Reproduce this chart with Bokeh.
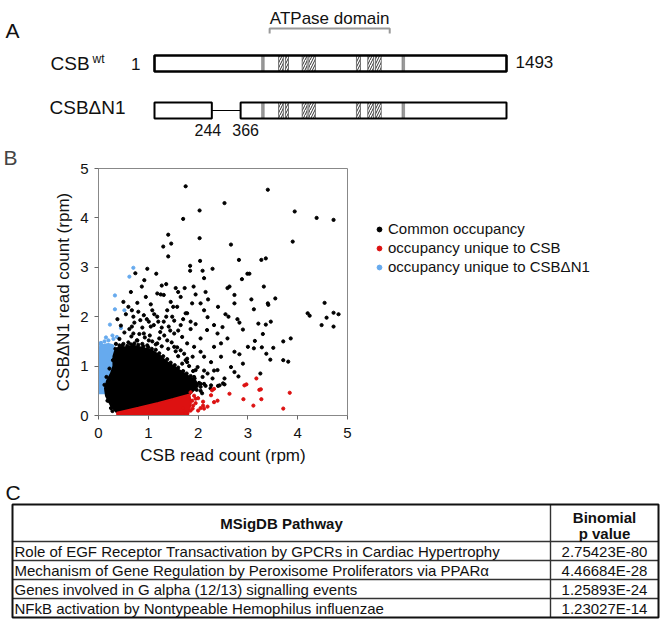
from bokeh.plotting import figure
from bokeh.models import Range1d, Legend, LegendItem, FixedTicker
from bokeh.layouts import column, row
from bokeh.embed import file_html
from bokeh.resources import INLINE
from bokeh.core.properties import value

FONT = "Liberation Sans"

# ---------------- Panel A data (amino-acid positions) ----------------
wt_segments_start = [1]
wt_segments_end = [1493]
dn1_segments_start = [1, 366]
dn1_segments_end = [244, 1493]
gray_start = [455, 1050]
gray_end = [466, 1061]
hatch_start = [527, 556, 627, 655, 857, 905, 938]
hatch_end = [547, 569, 648, 683, 874, 930, 962]
atpase_start, atpase_end = 489, 998

# ---------------- Panel B data (rpm) ----------------
common_x = [1.75, 3.40, 2.53, 2.03, 3.94, 1.70, 4.38, 4.72, 1.40, 2.03, 3.90, 1.46, 1.30, 2.66, 1.40, 2.04,
            2.82, 3.36, 3.27, 1.84, 0.98, 2.29, 2.09, 0.74, 2.99, 3.03, 1.16, 1.84, 2.12, 0.92, 2.88, 0.87,
            3.32, 2.63, 2.59, 1.36, 1.55, 1.27, 1.18, 1.73, 1.91, 2.73, 1.65, 1.31, 3.55, 3.07, 2.73, 3.40,
            3.41, 4.54, 4.72, 4.82, 4.20, 4.24, 4.58, 4.48, 4.72, 2.61, 2.79, 2.83, 2.90, 3.12, 3.46, 3.21,
            3.36, 3.30, 3.86, 3.71, 3.14, 3.12, 3.28, 3.51, 3.37, 3.45, 3.71, 3.81, 3.25, 2.83, 2.90, 2.73,
            2.81, 2.66, 2.73, 3.00, 2.46, 2.39, 2.46, 2.32, 2.39, 2.32, 2.05, 2.18, 1.85, 1.78, 2.12, 2.05,
            1.88, 2.19, 2.49, 2.59, 2.05, 2.12, 2.26, 1.78, 1.95, 2.09, 2.29, 2.53, 2.43, 2.26,
            0.60, 0.67, 0.70, 0.84, 0.91, 1.01, 1.08, 1.11, 1.18, 1.24, 1.31, 1.38, 1.41, 1.48, 1.52, 1.58,
            1.65, 1.68, 1.75, 0.91, 1.01, 1.18, 0.70, 0.67, 0.77, 1.38, 1.52, 1.65, 1.78, 1.92, 1.89, 1.75,
            1.99, 2.12, 1.92, 2.19, 2.32, 2.05, 1.89, 1.65,
            0.35, 0.42, 0.48, 0.52, 0.60, 0.66, 0.70, 0.78, 0.82, 0.88, 0.93, 0.98, 1.03, 1.08, 1.15, 1.22,
            1.27, 1.32, 1.40, 1.47, 1.55, 1.60, 1.72, 1.68, 1.82, 1.90, 1.78, 1.58,
            0.38, 0.45, 0.55, 0.62, 0.72, 0.80, 0.88, 0.97, 1.05, 1.12, 1.20, 1.27, 1.36, 1.44, 1.52, 1.60,
            1.70, 1.85, 1.95, 0.50, 0.65, 0.78, 0.95, 1.05, 1.25, 1.45, 1.60, 1.50, 1.95, 2.20, 2.40, 2.55,
            2.15, 1.90, 2.05, 2.15, 2.25, 2.40, 2.50, 2.53, 2.12, 0.28, 0.25, 0.18, 0.20,
            0.42, 0.50, 0.58, 0.65, 0.72, 0.80, 0.90, 1.00, 1.07, 1.15, 1.22, 1.30, 1.38, 1.45, 1.53, 1.60,
            1.70, 1.77, 1.85, 1.93, 2.02, 2.05, 1.97, 2.08, 0.27, 0.20, 0.12, 0.16, 0.22, 0.29, 0.34]
common_y = [4.64, 4.57, 4.30, 4.15, 4.13, 3.98, 4.00, 3.96, 3.66, 3.59, 3.52, 3.48, 3.42, 3.46, 3.22, 3.13,
            3.15, 3.18, 3.15, 3.03, 2.97, 2.97, 2.93, 2.88, 2.87, 2.87, 2.87, 2.93, 2.78, 2.74, 2.76, 2.61,
            2.61, 2.61, 2.58, 2.66, 2.58, 2.63, 2.47, 2.58, 2.61, 2.44, 2.40, 2.44, 2.37, 2.35, 2.27, 2.27,
            2.24, 2.28, 2.08, 2.05, 2.07, 2.02, 1.98, 1.83, 1.80, 2.00, 1.95, 1.88, 1.74, 2.15, 1.90, 1.86,
            1.84, 1.65, 1.56, 1.50, 1.51, 1.36, 1.38, 1.37, 1.25, 1.13, 1.12, 1.09, 0.85, 1.24, 1.05, 0.88,
            0.79, 0.98, 1.29, 1.39, 1.19, 0.92, 1.46, 1.39, 1.66, 1.83, 1.56, 1.73, 1.90, 2.07, 2.13, 2.27,
            2.27, 1.99, 1.79, 1.56, 1.29, 1.19, 1.08, 1.08, 0.92, 0.78, 0.75, 0.75, 0.61, 0.61,
            2.20, 2.13, 2.00, 1.93, 2.03, 1.90, 2.13, 1.83, 2.00, 1.69, 1.90, 2.13, 1.80, 2.00, 1.66, 2.20,
            1.83, 1.59, 2.07, 1.66, 1.52, 1.46, 1.66, 1.80, 1.52, 1.52, 1.39, 1.32, 1.46, 1.39, 1.19, 1.12,
            0.98, 0.91, 0.78, 0.85, 0.91, 0.64, 0.58, 0.71,
            1.45, 1.55, 1.42, 1.68, 1.48, 1.60, 1.42, 1.52, 1.65, 1.45, 1.58, 1.42, 1.62, 1.50, 1.44, 1.56,
            1.40, 1.62, 1.35, 1.48, 1.30, 1.20, 1.25, 1.05, 1.00, 0.90, 1.15, 1.38,
            1.95, 1.82, 2.05, 1.75, 1.88, 2.10, 1.78, 1.95, 1.80, 2.05, 1.90, 1.78, 2.00, 1.72, 1.92, 1.72,
            1.95, 1.75, 1.85, 2.30, 2.50, 2.28, 2.40, 2.25, 2.45, 2.30, 2.50, 2.20, 2.45, 2.35, 2.20, 2.05,
            2.50, 0.55, 0.50, 0.60, 0.55, 0.60, 0.65, 0.63, 0.64, 0.09, 0.15, 0.30, 0.40,
            1.42, 1.45, 1.41, 1.44, 1.46, 1.43, 1.40, 1.38, 1.35, 1.33, 1.26, 1.20, 1.14, 1.07, 1.02, 0.97,
            0.90, 0.85, 0.80, 0.75, 0.66, 0.58, 0.52, 0.45, 0.30, 0.30, 0.62, 0.78, 0.95, 1.12, 1.35]
csb_x = [3.84, 3.26, 2.97, 2.91, 3.27, 3.11, 3.71, 2.63, 2.32, 2.39, 2.26, 2.28, 2.12, 2.10, 2.19, 1.89,
         2.00, 1.79, 1.68, 1.95, 1.85, 3.17, 2.93, 2.32, 3.23, 1.88, 1.90, 1.92, 1.95, 2.00, 2.05, 2.10,
         1.85, 1.75, 1.70]
csb_y = [0.46, 0.53, 0.63, 0.33, 0.33, 0.20, 0.14, 0.44, 0.27, 0.30, 0.41, 0.51, 0.14, 0.20, 0.18, 0.14,
         0.10, 0.37, 0.03, 0.34, 0.47, 0.75, 0.61, 0.54, 0.52, 0.30, 0.20, 0.40, 0.25, 0.35, 0.15, 0.28,
         0.10, 0.05, 0.15]
dn1_x = [0.70, 0.62, 0.33, 0.33, 0.52, 0.23, 0.45, 0.37, 0.30, 0.20, 0.12, 0.05, 0.02, 0.28, 0.15]
dn1_y = [2.99, 2.81, 2.43, 2.15, 2.13, 1.84, 1.77, 1.59, 1.55, 1.52, 1.50, 1.47, 1.45, 1.62, 1.58]

# dense cores (outline of the solid-looking clouds)
common_core_x = [0.37, 0.25, 0.15, 0.13, 0.17, 0.25, 0.30, 0.30, 0.33, 0.40, 0.55, 0.75, 0.95, 1.10, 1.25,
                 1.35, 1.50, 1.65, 1.80, 1.95, 2.00, 1.90, 1.83]
common_core_y = [0.06, 0.20, 0.40, 0.55, 0.70, 0.85, 1.00, 1.20, 1.30, 1.38, 1.38, 1.40, 1.35, 1.30, 1.20,
                 1.10, 1.00, 0.90, 0.80, 0.70, 0.60, 0.50, 0.43]
csb_core_x = [0.37, 0.37, 0.80, 1.20, 1.50, 1.83, 1.86, 1.80]
csb_core_y = [0.00, 0.06, 0.16, 0.26, 0.34, 0.43, 0.25, 0.00]
dn1_core_x = [0.00, 0.13, 0.13, 0.20, 0.28, 0.30, 0.32, 0.30, 0.20, 0.05, 0.00]
dn1_core_y = [0.45, 0.45, 0.60, 0.75, 0.90, 1.10, 1.30, 1.42, 1.45, 1.42, 1.35]

axis_ticks = [0, 1, 2, 3, 4, 5]
legend_labels = ["Common occupancy", "occupancy unique to CSB", "occupancy unique to CSB\u0394N1"]

# ---------------- Panel C data ----------------
pathways = ["Role of EGF Receptor Transactivation by GPCRs in Cardiac Hypertrophy",
            "Mechanism of Gene Regulation by Peroxisome Proliferators via PPAR\u03b1",
            "Genes involved in G alpha (12/13) signalling events",
            "NFkB activation by Nontypeable Hemophilus influenzae"]
pvalues = ["2.75423E-80", "4.46684E-28", "1.25893E-24", "1.23027E-14"]

BLACK = "#000000"
RED = "#dd1111"
BLUE = "#66aaee"
W = 660


def no_align(f):
    try:
        f.frame_align = False
    except Exception:
        pass


def base_fig(w, h, xr, yr):
    f = figure(width=w, height=h, x_range=xr, y_range=yr, output_backend="svg",
               toolbar_location=None, x_axis_type=None, y_axis_type=None, min_border=0)
    f.outline_line_color = None
    f.grid.visible = False
    f.background_fill_color = "white"
    f.border_fill_color = "white"
    no_align(f)
    return f


def txt(f, x, y, s, size, align="left", baseline="middle", style="normal", **kw):
    f.text(x=x, y=y, text=s, text_font=value(FONT), text_font_size=size, text_align=align,
           text_baseline=baseline, text_font_style=style, text_color="#111111", **kw)


# ---------------- Panel A ----------------
HA = 140
KPX = 352 / 1492.0
xa0 = 1 - 154 / KPX
pA = base_fig(W, HA, Range1d(xa0, xa0 + W / KPX), Range1d(HA, 0))
ya_wt, ya_dn, bh = 63, 110, 8

txt(pA, [xa0], [30], ["A"], "21px", baseline="alphabetic", x_offset=5)
pA.multi_line(xs=[[atpase_start, atpase_start, atpase_end, atpase_end]], ys=[[33, 28, 28, 33]],
              line_color="#9a9a9a", line_width=2)
txt(pA, [(atpase_start + atpase_end) / 2], [18], ["ATPase domain"], "17px", align="center",
    baseline="alphabetic")


def protein(yc, starts, ends, lw):
    k = len(starts)
    pA.quad(left=starts, right=ends, top=[yc - bh] * k, bottom=[yc + bh] * k,
            fill_color="white", line_color=None)
    m = len(hatch_start)
    pA.quad(left=hatch_start, right=hatch_end, top=[yc - bh] * m, bottom=[yc + bh] * m,
            fill_color="white", line_color="#555555", line_width=0.8,
            hatch_pattern="/", hatch_scale=5, hatch_weight=1, hatch_color="#333333")
    g = len(gray_start)
    pA.quad(left=gray_start, right=gray_end, top=[yc - bh] * g, bottom=[yc + bh] * g,
            fill_color="#9a9a9a", line_color="#777777", line_width=0.6)
    pA.quad(left=starts, right=ends, top=[yc - bh] * k, bottom=[yc + bh] * k,
            fill_color=None, line_color="black", line_width=lw)


protein(ya_wt, wt_segments_start, wt_segments_end, 2.6)
protein(ya_dn, dn1_segments_start, dn1_segments_end, 2.0)
pA.segment(x0=[dn1_segments_end[0]], x1=[dn1_segments_start[1]], y0=[ya_dn], y1=[ya_dn],
           line_color="black", line_width=1)

txt(pA, [1], [ya_wt], ["CSB"], "19px", x_offset=-104)
txt(pA, [1], [ya_wt], ["wt"], "12px", x_offset=-62, y_offset=-5)
txt(pA, [1], [ya_wt], ["1"], "17px", align="right", x_offset=-14)
txt(pA, [wt_segments_end[0]], [ya_wt - 2], ["1493"], "17px", x_offset=9)
txt(pA, [1], [ya_dn - 3], ["CSB\u0394N1"], "19px", x_offset=-105)
txt(pA, [dn1_segments_end[0]], [129], [str(dn1_segments_end[0])], "16px", align="center", x_offset=-4)
txt(pA, [dn1_segments_start[1]], [129], [str(dn1_segments_start[1])], "16px", align="center", x_offset=5)

# ---------------- Panel B ----------------
HB = 330
WB = 360
pB = figure(width=WB, height=HB, x_range=Range1d(0, 5), y_range=Range1d(0, 5), output_backend="svg",
            toolbar_location=None, min_border_left=98, min_border_right=WB - 347, min_border_top=28,
            min_border_bottom=55)
no_align(pB)
pB.grid.visible = False
pB.outline_line_color = "#888888"
pB.outline_line_width = 1
pB.background_fill_color = "white"
pB.border_fill_color = "white"
for ax in (pB.xaxis[0], pB.yaxis[0]):
    ax.ticker = FixedTicker(ticks=axis_ticks)
    ax.minor_tick_line_color = None
    ax.major_tick_in = 0
    ax.major_tick_out = 4
    ax.axis_line_color = "#888888"
    ax.major_tick_line_color = "#666666"
    ax.major_label_text_font = FONT
    ax.major_label_text_font_size = "15px"
    ax.major_label_text_color = "#111111"
    ax.axis_label_text_font = FONT
    ax.axis_label_text_font_size = "17px"
    ax.axis_label_text_font_style = "normal"
    ax.axis_label_text_color = "#111111"
pB.xaxis.major_label_standoff = 8
pB.xaxis.axis_label_standoff = 5
pB.yaxis.major_label_standoff = 6
pB.yaxis.axis_label_standoff = 4
pB.xaxis.axis_label = "CSB read count (rpm)"
pB.yaxis.axis_label = "CSB\u0394N1 read count (rpm)"
pB.yaxis.major_label_orientation = "horizontal"

pB.title.text = "B"
pB.title.align = "left"
pB.title.offset = -95
pB.title.standoff = 0
pB.title.text_font = FONT
pB.title.text_font_size = "21px"
pB.title.text_font_style = "normal"
pB.title.vertical_align = "bottom"

pB.patch(dn1_core_x, dn1_core_y, fill_color=BLUE, line_color=BLUE, line_width=2)
pB.scatter(dn1_x, dn1_y, size=3.2, color=BLUE)
pB.patch(common_core_x, common_core_y, fill_color=BLACK, line_color=BLACK, line_width=2)
pB.scatter(common_x, common_y, size=3.2, color=BLACK)
pB.patch(csb_core_x, csb_core_y, fill_color=RED, line_color=RED, line_width=1.5)
pB.scatter(csb_x, csb_y, size=3.2, color=RED)

# legend panel to the right of the scatter (its glyph points lie outside the visible range)
WL = W - WB
pL = base_fig(WL, HB, Range1d(0, 1), Range1d(0, 1))
leg_colors = [BLACK, RED, BLUE]
leg_renderers = [pL.scatter(x=[-10], y=[-10], size=4, color=c) for c in leg_colors]
legend = Legend(items=[LegendItem(label=lab, renderers=[r]) for lab, r in zip(legend_labels, leg_renderers)],
                location=(13, 195), label_text_font=FONT, label_text_font_size="15px",
                label_text_color="#111111",
                glyph_width=12, glyph_height=12, label_standoff=3, spacing=2, padding=0, margin=0,
                label_height=16, border_line_color=None, background_fill_alpha=0)
pL.add_layout(legend)

# ---------------- Panel C ----------------
HC = 150
pC = base_fig(W, HC, Range1d(0, W), Range1d(HC, 0))
t_left, t_right, t_div, t_top, t_head = 12, 658, 550, 34, 71
row_h = 19
n = len(pathways)
t_bottom = t_head + n * row_h
txt(pC, [0], [22], ["C"], "21px", baseline="alphabetic", x_offset=5)
row_lines = [t_head + k * row_h for k in range(n)]
pC.segment(x0=[t_left] * n, x1=[t_right] * n, y0=row_lines, y1=row_lines, line_color="#333333",
           line_width=1.4)
pC.segment(x0=[t_div], x1=[t_div], y0=[t_top], y1=[t_bottom], line_color="#333333", line_width=1.4)
pC.quad(left=[t_left], right=[t_right], top=[t_top], bottom=[t_bottom], fill_color=None,
        line_color="#111111", line_width=2)
txt(pC, [(t_left + t_div) / 2], [(t_top + t_head) / 2], ["MSigDB Pathway"], "15px", align="center",
    style="bold")
txt(pC, [(t_div + t_right) / 2] * 2, [47, 63], ["Binomial", "p value"], "15px", align="center",
    style="bold")
row_c = [t_head + (k + 0.5) * row_h for k in range(n)]
txt(pC, [t_left + 2] * n, row_c, pathways, "15px")
txt(pC, [(t_div + t_right) / 2] * n, row_c, pvalues, "15px", align="center")

layout = column(pA, row(pB, pL, spacing=0), pC, spacing=0)
open("out.html", "w").write(file_html(layout, INLINE))
